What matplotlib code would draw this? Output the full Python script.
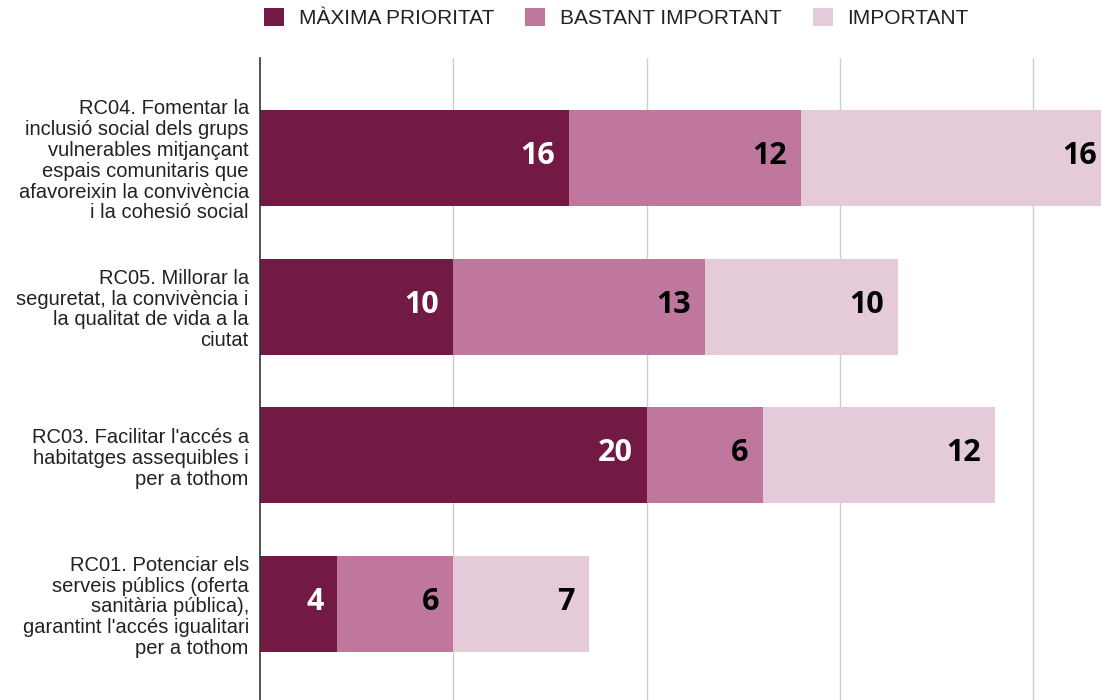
import matplotlib.pyplot as plt
import numpy as np
from matplotlib.patches import Patch

categories = [
    "RC01. Potenciar els\nserveis públics (oferta\nsanitària pública),\ngarantint l'accés igualitari\nper a tothom",
    "RC03. Facilitar l'accés a\nhabitatges assequibles i\nper a tothom",
    "RC05. Millorar la\nseguretat, la convivència i\nla qualitat de vida a la\nciutat",
    "RC04. Fomentar la\ninclusió social dels grups\nvulnerables mitjançant\nespais comunitaris que\nafavoreixin la convivència\ni la cohesió social",
]
series_names = ["MÀXIMA PRIORITAT", "BASTANT IMPORTANT", "IMPORTANT"]
maxima = [4, 20, 10, 16]
bastant = [6, 6, 13, 12]
important = [7, 12, 10, 16]

colors = ["#721a43", "#bf779d", "#e5cbda"]
text_colors = ["white", "black", "black"]

fig = plt.figure(figsize=(11.01, 7), dpi=100)
ax = fig.add_axes([0.2361, 0.0, 0.7639, 0.917])

y = np.arange(len(categories))
left = np.zeros(len(categories))
for vals, col, tcol, name in zip([maxima, bastant, important], colors, text_colors, series_names):
    vals = np.array(vals)
    ax.barh(y, vals, left=left, height=0.646, color=col, label=name, zorder=2)
    for yi, l, v in zip(y, left, vals):
        ax.annotate(str(v), (l + v, yi), xytext=(-10, 1.5), textcoords="offset points",
                    ha="right", va="center", fontsize=22, fontweight="bold",
                    family="Open Sans", color=tcol, zorder=3, annotation_clip=False)
    left = left + vals

ax.set_xlim(0, 43.5)
ax.set_ylim(-0.646, 3.672)
ax.set_xticks([10, 20, 30, 40])
ax.xaxis.grid(True, color="#cccccc", linewidth=1, zorder=0)
ax.tick_params(axis="x", length=0, labelbottom=False)
ax.set_yticks(y)
ax.set_yticklabels(categories, fontsize=14.5, family="Liberation Sans", color="#222222",
                   linespacing=1.12)
ax.tick_params(axis="y", length=0, pad=8)
for s in ["top", "right", "bottom"]:
    ax.spines[s].set_visible(False)
ax.spines["left"].set_color("#333333")
ax.spines["left"].set_linewidth(1.2)
ax.spines["left"].set_zorder(4)

handles = [Patch(facecolor=c, label=n) for c, n in zip(colors, series_names)]
fig.legend(handles=handles, loc="center", bbox_to_anchor=(0.560, 0.974), ncol=3,
           frameon=False, prop={"family": "Liberation Sans", "size": 15},
           handlelength=0.95, handleheight=0.95, handletextpad=0.7, columnspacing=1.5,
           labelcolor="#222222")

fig.savefig("out.png", dpi=100)
